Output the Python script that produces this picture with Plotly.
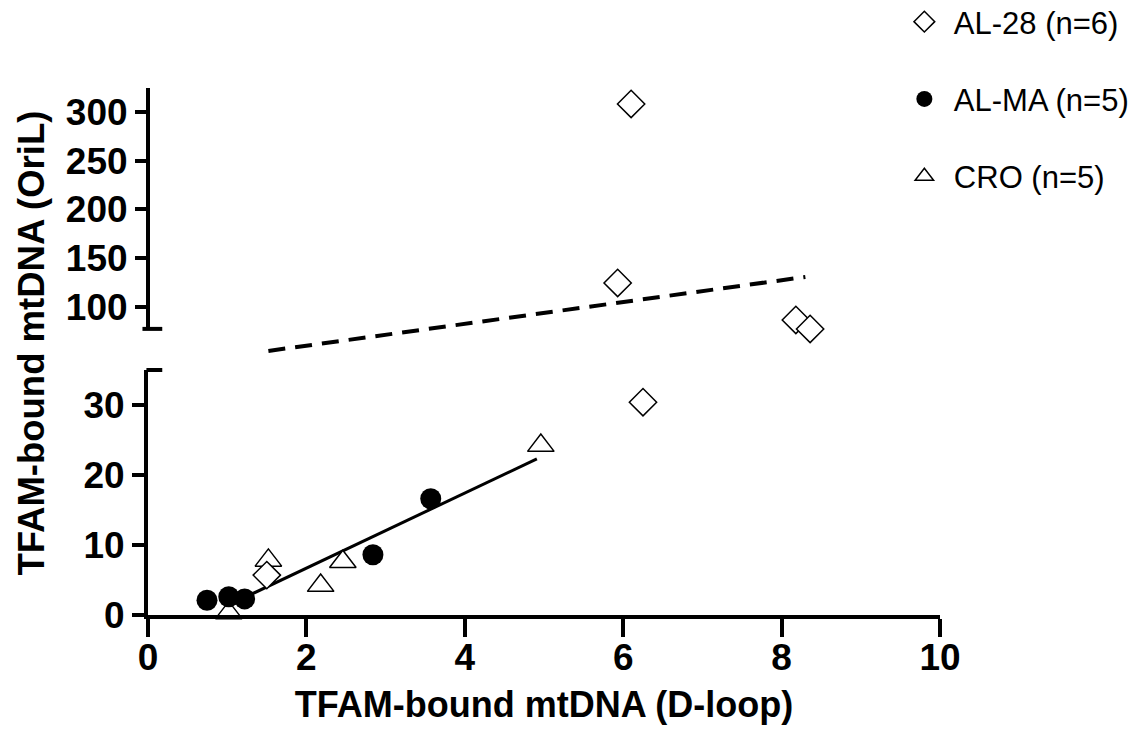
import plotly.graph_objects as go

# ---------------- data ----------------
al28_x = [6.10, 5.93, 8.18, 8.36, 6.25, 1.50]
al28_y = [308.2, 124.6, 86.7, 77.4, 30.4, 5.7]

alma_x = [0.745, 1.02, 1.22, 2.84, 3.57]
alma_y = [2.1, 2.6, 2.3, 8.6, 16.6]

cro_x = [1.02, 1.52, 2.18, 2.46, 4.96]
cro_y = [0.3, 7.8, 4.2, 7.6, 24.2]

fit_lower_x = [1.05, 4.91]
fit_lower_y = [1.6, 22.3]

fit_upper_x = [1.52, 8.30]
fit_upper_y = [54.9, 130.8]

x_ticks = [0, 2, 4, 6, 8, 10]
y_low_ticks = [0, 10, 20, 30]
y_high_ticks = [100, 150, 200, 250, 300]

names = ["AL-28 (n=6)", "AL-MA (n=5)", "CRO (n=5)"]

BREAK = 50  # values above this belong to the upper segment
x_range = [0, 10]
y_low_range = [0, 35]
y_high_range = [45.6, 324.6]
y_high_axis_start = 77.5

low_dom = [0, 0.4649]
high_dom = [0.4839, 1]

FONT = "Arial, Liberation Sans, sans-serif"
AX_W = 4


def split(xs, ys):
    lo = [(x, y) for x, y in zip(xs, ys) if y <= BREAK]
    hi = [(x, y) for x, y in zip(xs, ys) if y > BREAK]
    return ([p[0] for p in lo], [p[1] for p in lo]), ([p[0] for p in hi], [p[1] for p in hi])


fig = go.Figure()

# regression lines
fig.add_trace(go.Scatter(x=fit_lower_x, y=fit_lower_y, mode="lines",
                         line=dict(color="black", width=3), showlegend=False,
                         xaxis="x", yaxis="y", hoverinfo="skip"))
fig.add_trace(go.Scatter(x=fit_upper_x, y=fit_upper_y, mode="lines",
                         line=dict(color="black", width=4, dash="17px,10px"), showlegend=False,
                         xaxis="x2", yaxis="y2", hoverinfo="skip"))

marker_styles = {
    names[0]: dict(symbol="diamond", size=21, color="white", line=dict(color="black", width=1.5)),
    names[1]: dict(symbol="circle", size=21, color="black", line=dict(color="black", width=0)),
    names[2]: dict(symbol="triangle-up", size=23, color="white", line=dict(color="black", width=1.5)),
}
series = {names[0]: (al28_x, al28_y), names[1]: (alma_x, alma_y), names[2]: (cro_x, cro_y)}
draw_order = [names[2], names[0], names[1]]
rank = {names[0]: 1, names[1]: 2, names[2]: 3}

for nm in draw_order:
    xs, ys = series[nm]
    (lx, ly), (hx, hy) = split(xs, ys)
    fig.add_trace(go.Scatter(x=lx, y=ly, mode="markers", name=nm, legendgroup=nm,
                             legendrank=rank[nm], marker=marker_styles[nm], cliponaxis=False,
                             xaxis="x", yaxis="y", showlegend=True))
    if hx:
        fig.add_trace(go.Scatter(x=hx, y=hy, mode="markers", name=nm, legendgroup=nm,
                                 marker=marker_styles[nm], cliponaxis=False,
                                 xaxis="x2", yaxis="y2", showlegend=False))

tickfont = dict(family=FONT, size=37, color="black", weight="bold")

# paper y position of the upper axis start
hy0 = high_dom[0] + (y_high_axis_start - y_high_range[0]) / (y_high_range[1] - y_high_range[0]) * (high_dom[1] - high_dom[0])

shapes = [
    # upper y-axis line (only over its valid range)
    dict(type="line", xref="paper", yref="paper", x0=0, x1=0, y0=hy0, y1=1,
         line=dict(color="black", width=AX_W)),
    # break caps
    dict(type="line", xref="paper", yref="paper", x0=-0.007, x1=0.018, y0=hy0, y1=hy0,
         line=dict(color="black", width=AX_W)),
    dict(type="line", xref="paper", yref="paper", x0=-0.002, x1=0.018, y0=low_dom[1], y1=low_dom[1],
         line=dict(color="black", width=AX_W)),
]

fig.update_layout(
    template="none",
    width=1147, height=734,
    margin=dict(l=148, r=207, t=88, b=119, autoexpand=False),
    paper_bgcolor="white", plot_bgcolor="white",
    font=dict(family=FONT, color="black"),
    showlegend=True,
    legend=dict(x=0.943, y=1.1765, xanchor="left", yanchor="top",
                font=dict(family=FONT, size=31, color="black"),
                traceorder="grouped", tracegroupgap=34, bgcolor="rgba(0,0,0,0)",
                borderwidth=0, itemwidth=49),
    xaxis=dict(domain=[0, 1], range=x_range, anchor="y", tickvals=x_ticks, automargin=False,
               ticks="outside", ticklen=18, tickwidth=AX_W, tickcolor="black",
               showline=True, linewidth=AX_W, linecolor="black", showgrid=False, zeroline=False,
               tickfont=tickfont, ticklabelstandoff=-11,
               title=dict(text="TFAM-bound mtDNA (D-loop)", standoff=15,
                          font=dict(family=FONT, size=36, color="black", weight="bold"))),
    yaxis=dict(domain=low_dom, range=y_low_range, anchor="x", tickvals=y_low_ticks, automargin=False,
               ticks="outside", ticklen=12, tickwidth=AX_W, tickcolor="black",
               showline=True, linewidth=AX_W, linecolor="black", showgrid=False, zeroline=False,
               tickfont=tickfont, ticklabelstandoff=0),
    xaxis2=dict(domain=[0, 1], range=x_range, anchor="y2", visible=False, matches="x"),
    yaxis2=dict(domain=high_dom, range=y_high_range, anchor="x2", tickvals=y_high_ticks, automargin=False,
                ticks="outside", ticklen=12, tickwidth=AX_W, tickcolor="black",
                showline=False, showgrid=False, zeroline=False, tickfont=tickfont,
                ticklabelstandoff=0),
    shapes=shapes,
    annotations=[dict(text="TFAM-bound mtDNA (OriL)", xref="paper", yref="paper",
                      x=-0.1465, y=0.517, textangle=-90, showarrow=False,
                      xanchor="center", yanchor="middle",
                      font=dict(family=FONT, size=36.5, color="black", weight="bold"))],
)

fig.write_html("out.html", post_script="document.body.style.margin='0';",
               config={"displayModeBar": False})
